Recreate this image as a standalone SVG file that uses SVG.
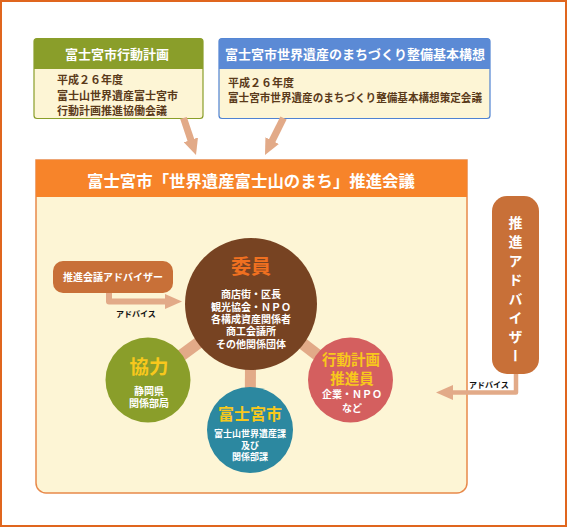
<svg xmlns="http://www.w3.org/2000/svg" width="567" height="527" viewBox="0 0 567 527">
<defs>
<style>
text{font-family:"Noto Sans CJK JP","Noto Sans CJK SC",sans-serif;font-weight:bold;}
.hdr{fill:#ffffff;font-size:13px;text-anchor:middle;dominant-baseline:central;}
.body{fill:#5a3a1a;font-size:11px;dominant-baseline:central;}
.wc{fill:#ffffff;text-anchor:middle;dominant-baseline:central;}
.yc{fill:#f8c81c;text-anchor:middle;dominant-baseline:central;}
.lbl{fill:#111111;font-size:8px;text-anchor:middle;dominant-baseline:central;}
.conn{stroke:#e2aa88;fill:none;}
</style>
<marker id="ah" viewBox="0 0 16 15" refX="1" refY="7.5" markerWidth="16" markerHeight="15" markerUnits="userSpaceOnUse" orient="auto">
<path d="M0,0 L16,7.5 L0,15 z" fill="#e2aa88"/>
</marker>
<marker id="ah2" viewBox="0 0 17 15" refX="1" refY="7.5" markerWidth="17" markerHeight="15" markerUnits="userSpaceOnUse" orient="auto">
<path d="M0,0 L17,7.5 L0,15 z" fill="#e2aa88"/>
</marker>
</defs>
<rect x="1" y="1" width="565" height="525" fill="#ffffff" stroke="#e0661e" stroke-width="2"/>

<g id="plan-box">
<rect x="34" y="38.5" width="169" height="80" rx="3" fill="#fdf5d5" stroke="#8a9e2a" stroke-width="1.2"/>
<path d="M34,41.5 a3,3 0 0 1 3,-3 h163 a3,3 0 0 1 3,3 V69 H34 z" fill="#8a9e2a"/>
<text class="hdr" x="117" y="53.5">富士宮市行動計画</text>
<text class="body" x="57" y="79">平成２６年度</text>
<text class="body" x="57" y="94.5">富士山世界遺産富士宮市</text>
<text class="body" x="57" y="109.5">行動計画推進協働会議</text>
</g>

<g id="vision-box">
<rect x="219" y="38.5" width="271" height="80" rx="3" fill="#fdf5d5" stroke="#4f82d2" stroke-width="1.2"/>
<path d="M219,41.5 a3,3 0 0 1 3,-3 h265 a3,3 0 0 1 3,3 V69 H219 z" fill="#5b8ad5"/>
<text class="hdr" x="355" y="53.5">富士宮市世界遺産のまちづくり整備基本構想</text>
<text class="body" x="228" y="82">平成２６年度</text>
<text class="body" x="228" y="97" font-size="10.6" textLength="254" lengthAdjust="spacingAndGlyphs">富士宮市世界遺産のまちづくり整備基本構想策定会議</text>
</g>

<g id="council">
<path d="M36,160 H467 V483 a10,10 0 0 1 -10,10 H46 a10,10 0 0 1 -10,-10 z" fill="#fdf5d5" stroke="#e8894a" stroke-width="1.5"/>
<rect x="36" y="160" width="431" height="37" fill="#f7842a"/>
<text class="wc" x="251" y="179.5" font-size="16.4">富士宮市「世界遺産富士山のまち」推進会議</text>
</g>

<g id="connectors">
<line class="conn" x1="183.5" y1="118" x2="191.2" y2="140.8" stroke-width="7" marker-end="url(#ah)"/>
<line class="conn" x1="283.5" y1="118" x2="271.7" y2="141.6" stroke-width="7" marker-end="url(#ah)"/>
<line class="conn" x1="251" y1="304" x2="148" y2="380" stroke-width="12"/>
<line class="conn" x1="251" y1="304" x2="250" y2="430" stroke-width="11"/>
<line class="conn" x1="251" y1="304" x2="350" y2="380" stroke-width="12"/>
<path class="conn" d="M109,292 V301.5 H166" stroke-width="6" stroke-linejoin="round" marker-end="url(#ah2)"/>
<text class="lbl" x="136" y="313">アドバイス</text>
<path class="conn" d="M516,373 V392.5 H452" stroke-width="4.5" stroke-linejoin="round" marker-end="url(#ah2)"/>
<text class="lbl" x="489" y="384.5">アドバイス</text>
</g>

<g id="adviser-left">
<rect x="53" y="261" width="120" height="32" rx="10" fill="#c87038"/>
<text class="wc" x="113" y="276.5" font-size="10">推進会議アドバイザー</text>
</g>

<g id="adviser-right">
<rect x="492" y="196" width="47" height="178" rx="15" fill="#c87038"/>
<text x="515.5" y="216" fill="#ffffff" font-size="14" style="writing-mode:vertical-rl;letter-spacing:5px;">推進アドバイザー</text>
</g>

<g id="members">
<circle cx="251" cy="304" r="66" fill="#774322"/>
<text x="251" y="265" font-size="20" fill="#f07020" text-anchor="middle" dominant-baseline="central">委員</text>
<text class="wc" x="251" y="293" font-size="10">商店街・区長</text>
<text class="wc" x="251" y="306" font-size="10">観光協会・ＮＰＯ</text>
<text class="wc" x="251" y="318.5" font-size="10">各構成資産関係者</text>
<text class="wc" x="251" y="330.5" font-size="10">商工会議所</text>
<text class="wc" x="251" y="343" font-size="10">その他関係団体</text>
</g>

<g id="cooperation">
<circle cx="148" cy="380" r="42.5" fill="#8a9e2a"/>
<text class="yc" x="149" y="365" font-size="19.5">協力</text>
<text class="wc" x="149" y="390" font-size="10">静岡県</text>
<text class="wc" x="149" y="402.5" font-size="10">関係部局</text>
</g>

<g id="city">
<circle cx="250" cy="430" r="43" fill="#2c88a0"/>
<text class="yc" x="250" y="413" font-size="16">富士宮市</text>
<text class="wc" x="250" y="433" font-size="9">富士山世界遺産課</text>
<text class="wc" x="250" y="445" font-size="9">及び</text>
<text class="wc" x="250" y="456.5" font-size="9">関係部課</text>
</g>

<g id="promoters">
<circle cx="350.5" cy="380" r="42.5" fill="#d45f5f"/>
<text class="yc" x="351" y="358" font-size="14.5">行動計画</text>
<text class="yc" x="352" y="377" font-size="14.5">推進員</text>
<text class="wc" x="352" y="393.5" font-size="10">企業・ＮＰＯ</text>
<text class="wc" x="352" y="407" font-size="10">など</text>
</g>
</svg>
